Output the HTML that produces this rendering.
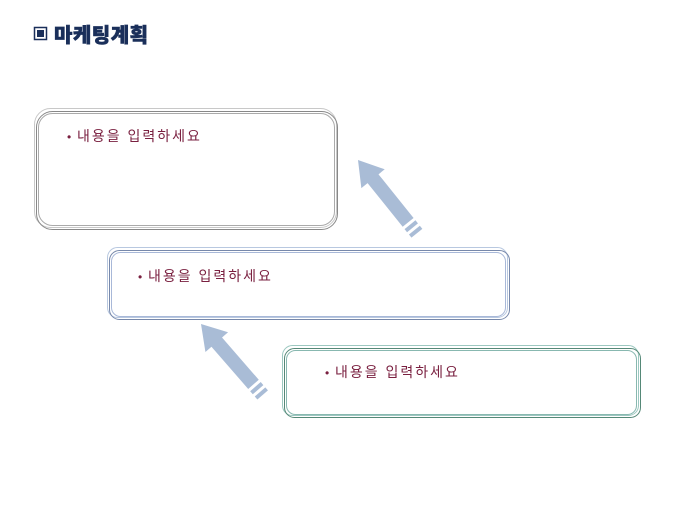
<!DOCTYPE html>
<html><head><meta charset="utf-8"><style>
body{margin:0;background:#fff;width:680px;height:510px;overflow:hidden}
text{font-family:"Liberation Sans","Noto Sans CJK KR",sans-serif}
</style></head><body>
<svg width="680" height="510" viewBox="0 0 680 510" xmlns="http://www.w3.org/2000/svg">
<rect x="34.5" y="27.5" width="12" height="12" fill="none" stroke="#1a2f5a" stroke-width="1.5"/>
<rect x="37" y="30" width="7" height="7" fill="#1a2f5a"/>
<text x="54" y="42" font-size="20" font-weight="900" fill="#1a2f5a" stroke="#1a2f5a" stroke-width="0.6" letter-spacing="0.5">마케팅계획</text>

<g fill="none">
<rect x="34.5" y="108.5" width="302" height="119" rx="16" stroke="#c8c8c8"/>
<rect x="36.5" y="111.5" width="301" height="118" rx="16" stroke="#888"/>
<rect x="38.5" y="113.5" width="296" height="112" rx="14" stroke="#aaa"/>
</g>
<g font-size="14" fill="#7a2040">
<text x="67" y="141" font-size="12">•</text><text x="77" y="141" letter-spacing="2">내용을 입력하세요</text>
<text x="138" y="281" font-size="12">•</text><text x="148" y="281" letter-spacing="2">내용을 입력하세요</text>
<text x="325" y="377" font-size="12">•</text><text x="335" y="377" letter-spacing="2">내용을 입력하세요</text>
</g>

<g fill="none">
<rect x="107.5" y="247.5" width="400" height="70" rx="10" stroke="#b8c8e0"/>
<rect x="109.5" y="250.5" width="400" height="69" rx="10" stroke="#7788aa"/>
<rect x="111.5" y="252.5" width="394" height="64" rx="9" stroke="#a8b8d8"/>
</g>

<g fill="none">
<rect x="282.5" y="345.5" width="356" height="70" rx="10" stroke="#9cc8c0"/>
<rect x="284.5" y="348.5" width="356" height="69" rx="10" stroke="#558877"/>
<rect x="286.5" y="350.5" width="350" height="64" rx="9" stroke="#88b8b0"/>
</g>

<g fill="#a9bcd6">
<g transform="translate(358,160) rotate(-38.8)">
<polygon points="0,0 15,24 7,24 7,80 -7,80 -7,24 -15,24"/>
<rect x="-7" y="83" width="14" height="4"/>
<rect x="-7" y="90" width="14" height="4"/>
</g>
<g transform="translate(201,324) rotate(-41)">
<polygon points="0,0 15,24 7,24 7,80 -7,80 -7,24 -15,24"/>
<rect x="-7" y="83" width="14" height="4"/>
<rect x="-7" y="90" width="14" height="4"/>
</g>
</g>
</svg>
</body></html>
